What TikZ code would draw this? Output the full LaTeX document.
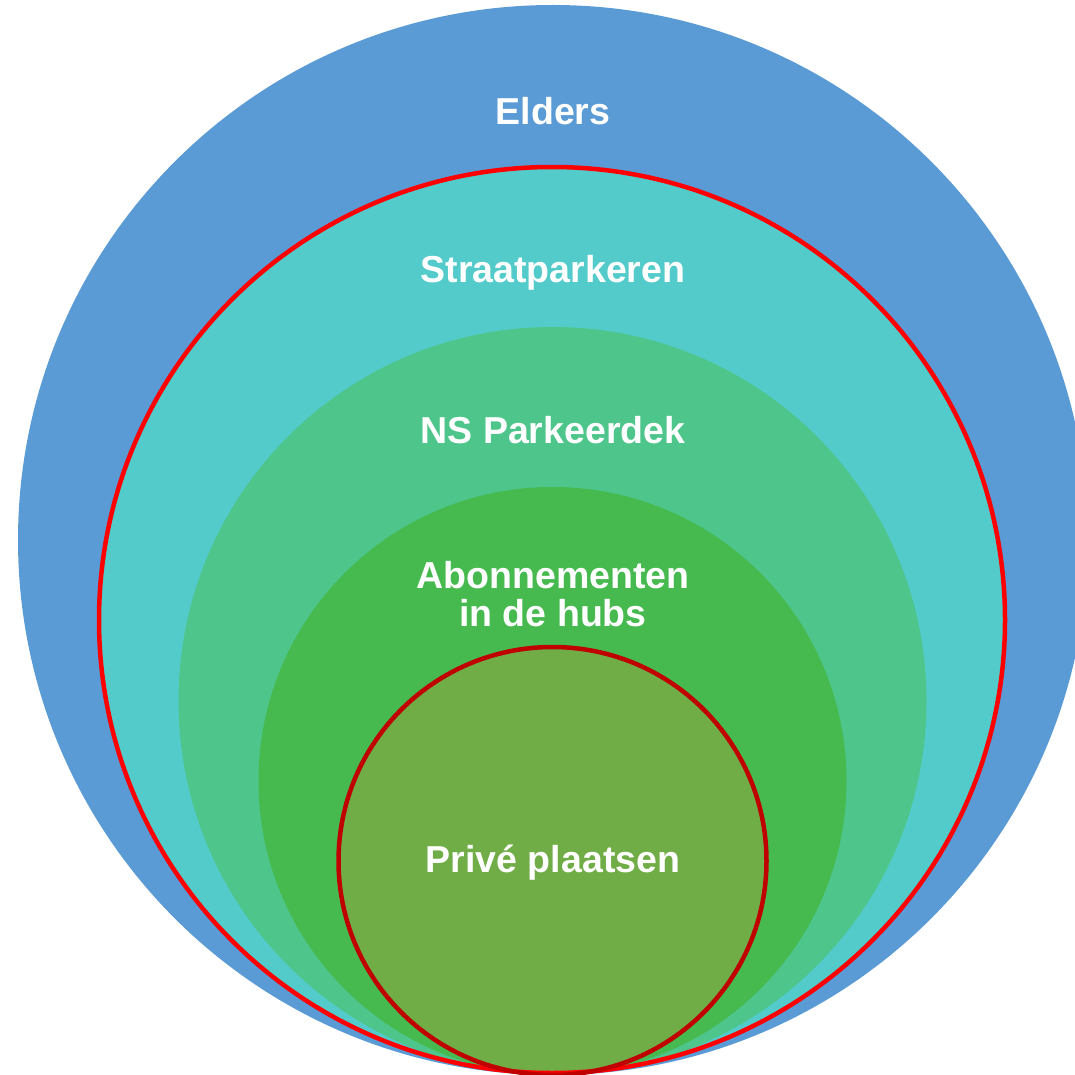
\documentclass[tikz,border=0pt]{standalone}
\usepackage{fontspec}
\setmainfont{Liberation Sans}
\definecolor{cblue}{HTML}{5B9BD5}
\definecolor{ccyan}{HTML}{54CBCB}
\definecolor{cteal}{HTML}{4DC58B}
\definecolor{cgreen}{HTML}{47BA4F}
\definecolor{colive}{HTML}{70AD47}
\definecolor{cdred}{HTML}{C00000}
\begin{document}
\begin{tikzpicture}[x=1pt,y=-1pt,
  lbl/.style={text=white,font=\fontsize{37.5}{39.5}\selectfont\bfseries,align=center}]
\useasboundingbox (0,0) rectangle (1075,1075);
\begin{scope}
\clip (0,0) rectangle (1075,1075);
\fill[cblue] (553,540) circle (535);
\fill[ccyan] (552,620) circle (453);
\fill[cteal] (552.5,701) circle (374);
\fill[cgreen] (552.5,781) circle (294);
\fill[colive] (552.5,861) circle (214);
\draw[red,line width=4.5] (552,620) circle (453);
\draw[cdred,line width=4.5] (552.5,861) circle (214);
\end{scope}
\node[lbl] (elders) at (553,111) {Elders};
\node[lbl] (straat) at (553,273) {Straatparkeren};
\node[lbl] (ns) at (553,430) {NS Parkeerdek};
\node[lbl] (abo) at (553,594) {Abonnementen\\[-2pt]in de hubs};
\node[lbl] (prive) at (553,863) {Privé plaatsen};
\end{tikzpicture}
\end{document}
